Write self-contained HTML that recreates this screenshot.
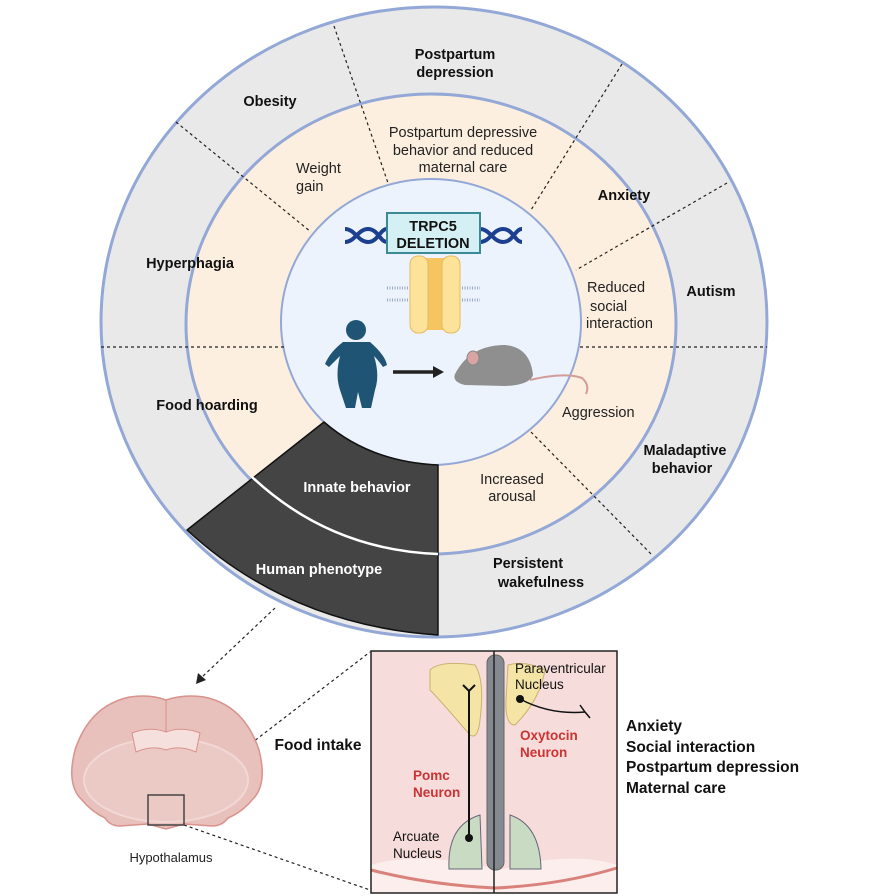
<!DOCTYPE html>
<html><head><meta charset="utf-8"><style>
html,body{margin:0;padding:0;background:#fff;}
svg{display:block;font-family:"Liberation Sans",Arial,sans-serif;}
.b{font-weight:bold;font-size:14.5px;fill:#111;}
.n{font-size:14.5px;fill:#222;}
</style></head><body>
<svg width="881" height="896" viewBox="0 0 881 896" xmlns="http://www.w3.org/2000/svg">
<ellipse cx="434" cy="322" rx="333" ry="315" fill="#e9e9e9" stroke="#93a8d6" stroke-width="3"/>
<ellipse cx="431" cy="324" rx="245" ry="230" fill="#fdefdf" stroke="#93a8d6" stroke-width="3"/>
<ellipse cx="431" cy="322" rx="150" ry="143" fill="#edf3fc" stroke="#93a8d6" stroke-width="2"/>
<g stroke="#222" stroke-width="1.2" stroke-dasharray="3,3" fill="none">
<line x1="101" y1="347" x2="286" y2="347"/>
<line x1="580" y1="347" x2="767" y2="347"/>
<line x1="334" y1="26" x2="388" y2="183"/>
<line x1="622" y1="64" x2="531" y2="210"/>
<line x1="727" y1="183" x2="576" y2="270"/>
<line x1="176" y1="122" x2="311" y2="232"/>
<line x1="531" y1="432" x2="653" y2="556"/>
<line x1="275" y1="608" x2="202" y2="677"/>
<line x1="184" y1="795" x2="370" y2="652"/>
<line x1="184" y1="825" x2="370" y2="890"/>
</g>
<polygon points="196,684 198,673 206,680" fill="#222"/>
<path d="M324,422 Q370,462 438,465 L438,635 Q290,625 187,530 Z" fill="#444" stroke="#111" stroke-width="1.5" stroke-linejoin="round"/>
<path d="M252,477 Q330,550 438,554" fill="none" stroke="#fff" stroke-width="2.5"/>
<text x="357" y="492" text-anchor="middle" style="font-weight:bold;font-size:14.5px;fill:#fff">Innate behavior</text>
<text x="319" y="574" text-anchor="middle" style="font-weight:bold;font-size:14.5px;fill:#fff">Human phenotype</text>
<g class="b" text-anchor="middle">
<text x="455" y="59" class="b">Postpartum</text>
<text x="455" y="77" class="b">depression</text>
<text x="270" y="106" class="b">Obesity</text>
<text x="624" y="200" class="b">Anxiety</text>
<text x="190" y="268" class="b">Hyperphagia</text>
<text x="711" y="296" class="b">Autism</text>
<text x="207" y="410" class="b">Food hoarding</text>
<text x="685" y="455" class="b">Maladaptive</text>
<text x="682" y="473" class="b">behavior</text>
<text x="528" y="568" class="b">Persistent</text>
<text x="541" y="587" class="b">wakefulness</text>
</g>
<g class="n">
<text x="463" y="137" text-anchor="middle" class="n">Postpartum depressive</text>
<text x="463" y="155" text-anchor="middle" class="n">behavior and reduced</text>
<text x="463" y="172" text-anchor="middle" class="n">maternal care</text>
<text x="296" y="173" class="n">Weight</text>
<text x="296" y="191" class="n">gain</text>
<text x="587" y="292" class="n">Reduced</text>
<text x="590" y="311" class="n">social</text>
<text x="586" y="328" class="n">interaction</text>
<text x="562" y="417" class="n">Aggression</text>
<text x="512" y="484" text-anchor="middle" class="n">Increased</text>
<text x="512" y="501" text-anchor="middle" class="n">arousal</text>
</g>
<g fill="none" stroke="#1d3f8f" stroke-width="4">
<path d="M345,229 C355,229 358,242 368,242 C378,242 380,229 387,229"/>
<path d="M345,242 C355,242 358,229 368,229 C378,229 380,242 387,242"/>
<path d="M480,229 C490,229 493,242 503,242 C513,242 515,229 522,229"/>
<path d="M480,242 C490,242 493,229 503,229 C513,229 515,242 522,242"/>
</g>
<rect x="387" y="213" width="93" height="40" fill="#d5f0f5" stroke="#3a8b95" stroke-width="2"/>
<text x="433" y="231" text-anchor="middle" style="font-weight:bold;font-size:14.5px;fill:#111">TRPC5</text>
<text x="433" y="248" text-anchor="middle" style="font-weight:bold;font-size:14.5px;fill:#111">DELETION</text>
<g stroke="#9aa8c8" stroke-width="3" stroke-dasharray="1,1.5">
<line x1="387" y1="288" x2="480" y2="288"/><line x1="387" y1="300" x2="480" y2="300"/>
</g>
<rect x="424" y="258" width="22" height="72" fill="#f6c460"/>
<rect x="410" y="256" width="18" height="77" rx="8" fill="#fde39a" stroke="#e6b860"/>
<rect x="442" y="256" width="18" height="77" rx="8" fill="#fde39a" stroke="#e6b860"/>
<g fill="#1f5474">
<circle cx="356" cy="330" r="10"/>
<path d="M343,342 L370,342 Q385,355 387,365 L383,367 Q378,360 374,356 Q380,375 375,390 L371,408 L362,408 L358,392 L355,408 L346,408 L340,390 Q335,375 340,356 Q334,362 329,367 L325,364 Q330,352 343,342 Z"/>
</g>
<line x1="393" y1="372" x2="433" y2="372" stroke="#222" stroke-width="3.5"/>
<polygon points="433,366 444,372 433,378" fill="#222"/>
<path d="M455,374 Q470,345 505,345 Q530,347 533,375 Q530,385 505,386 L465,385 Q452,382 455,374 Z" fill="#8f8f8f"/>
<ellipse cx="473" cy="358" rx="6" ry="7" fill="#d9a4a4" stroke="#888"/>
<path d="M530,380 Q565,372 582,378 Q590,385 586,394" fill="none" stroke="#d29c98" stroke-width="2"/>
<!-- brain -->
<path d="M166,700 Q150,694 130,697 Q90,705 75,750 Q66,785 82,800 Q92,812 105,818 Q110,826 120,826 L148,824 L166,829 L184,824 L212,826 Q222,826 228,818 Q242,812 252,800 Q268,785 259,750 Q244,705 204,697 Q184,694 166,700 Z" fill="#e8c0bc" stroke="#d9928c" stroke-width="1.5"/>
<path d="M166,700 L166,738" stroke="#d9928c" fill="none"/>
<ellipse cx="166" cy="780" rx="82" ry="42" fill="#ebc9c5" stroke="#f2d8d5" stroke-width="2"/>
<path d="M132,733 Q150,726 166,732 Q182,726 200,733 L196,752 Q180,745 166,750 Q152,745 136,752 Z" fill="#f6e0de" stroke="#d9928c"/>
<rect x="148" y="795" width="36" height="30" fill="none" stroke="#444" stroke-width="1.5"/>
<text x="171" y="862" text-anchor="middle" style="font-size:13px;fill:#222">Hypothalamus</text>
<text x="318" y="750" text-anchor="middle" style="font-weight:bold;font-size:15.5px;fill:#111">Food intake</text>
<rect x="371" y="651" width="246" height="242" fill="#f7dcdc"/>
<path d="M371,865 Q420,850 500,870 Q570,850 617,865 L617,893 L371,893 Z" fill="#fdeeee"/>
<path d="M371,870 Q430,885 495,888 Q560,885 617,868" fill="none" stroke="#d9827c" stroke-width="3"/>
<path d="M430,670 Q440,660 475,665 Q485,680 480,720 Q478,740 470,735 Q440,700 430,690 Z" fill="#f4e4a6" stroke="#c9b26e"/>
<path d="M508,665 Q525,660 545,670 Q540,700 515,725 Q505,725 506,700 Z" fill="#f4e4a6" stroke="#c9b26e"/>
<path d="M449,869 Q447,825 480,815 L482,869 Z" fill="#c9dcc3" stroke="#667"/>
<path d="M510,815 Q540,825 541,869 L510,869 Z" fill="#c9dcc3" stroke="#667"/>
<rect x="487" y="655" width="17" height="215" rx="8" fill="#858a90" stroke="#666"/>
<line x1="469" y1="690" x2="469" y2="838" stroke="#111" stroke-width="2"/>
<path d="M463,685 L469,691 L475,685" fill="none" stroke="#111" stroke-width="2"/>
<circle cx="469" cy="838" r="4" fill="#111"/>
<circle cx="520" cy="699" r="4" fill="#111"/>
<path d="M520,699 Q550,715 585,712" fill="none" stroke="#111" stroke-width="1.5"/>
<path d="M580,705 L585,712 L590,718" fill="none" stroke="#111" stroke-width="1.5"/>
<rect x="371" y="651" width="246" height="242" fill="none" stroke="#222" stroke-width="1.5"/>
<line x1="494" y1="651" x2="494" y2="893" stroke="#222" stroke-width="1.5"/>
<text x="515" y="673" style="font-size:13.5px;fill:#111">Paraventricular</text>
<text x="515" y="689" style="font-size:13.5px;fill:#111">Nucleus</text>
<text x="520" y="740" style="font-weight:bold;font-size:13.5px;fill:#cc3333">Oxytocin</text>
<text x="520" y="757" style="font-weight:bold;font-size:13.5px;fill:#cc3333">Neuron</text>
<text x="413" y="780" style="font-weight:bold;font-size:13.5px;fill:#cc3333">Pomc</text>
<text x="413" y="797" style="font-weight:bold;font-size:13.5px;fill:#cc3333">Neuron</text>
<text x="393" y="841" style="font-size:13.5px;fill:#111">Arcuate</text>
<text x="393" y="858" style="font-size:13.5px;fill:#111">Nucleus</text>
<g style="font-weight:bold;font-size:15.5px;fill:#111">
<text x="626" y="731">Anxiety</text>
<text x="626" y="752">Social interaction</text>
<text x="626" y="772">Postpartum depression</text>
<text x="626" y="793">Maternal care</text>
</g>
</svg>
</body></html>
